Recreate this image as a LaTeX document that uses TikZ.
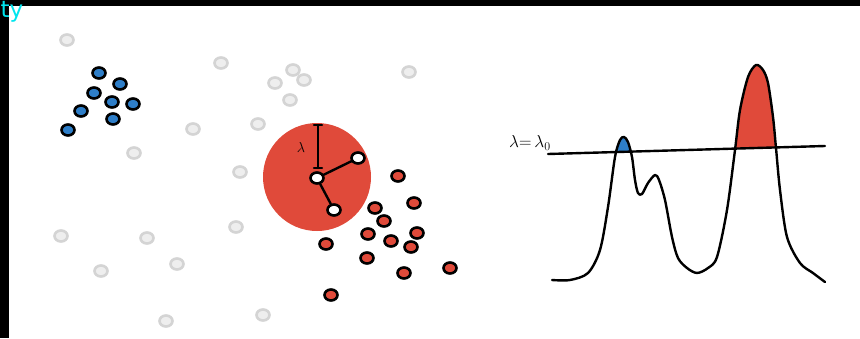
\documentclass[tikz,border=0pt]{standalone}
\usepackage{fontspec}
\setsansfont{DejaVu Sans}
\usetikzlibrary{shapes.geometric}
\definecolor{dotred}{HTML}{E04A3A}
\definecolor{dotblue}{HTML}{2E7EC8}
\definecolor{ringgrey}{HTML}{D4D4D4}
\definecolor{fillgrey}{HTML}{EEEEEE}
\definecolor{tycyan}{HTML}{00E5EE}
\tikzset{
  dotbase/.style={ellipse, minimum width=13pt, minimum height=11pt, inner sep=0pt, line width=2.6pt},
  greydot/.style={dotbase, draw=ringgrey, fill=fillgrey},
  bluedot/.style={dotbase, draw=black, fill=dotblue},
  reddot/.style={dotbase, draw=black, fill=dotred},
  opendot/.style={dotbase, draw=black, fill=white},
  ink/.style={line width=2.4pt, line cap=round, line join=round},
}
\begin{document}
\begin{tikzpicture}[x=1pt,y=-1pt]
\useasboundingbox (0,0) rectangle (860,338);
\fill[white] (0,0) rectangle (860,338);

% grey dots
\foreach \x/\y [count=\i] in {67/40,221/63,293/70,275/83,304/80,409/72,290/100,193/129,258/124,134/153,240/172,61/236,147/238,236/227,101/271,177/264,166/321,263/315}
  \node[greydot] (g\i) at (\x,\y) {};

% blue dots
\foreach \x/\y [count=\i] in {99/73,120/84,94/93,112/102,133/104,81/111,113/119,68/130}
  \node[bluedot] (b\i) at (\x,\y) {};

% red disk
\fill[dotred] (317,177) circle (54);

% red dots
\foreach \x/\y [count=\i] in {398/176,414/203,375/208,384/221,368/234,417/233,391/241,326/244,411/247,367/258,404/273,450/268,331/295}
  \node[reddot] (r\i) at (\x,\y) {};

% radius construction
\node[opendot] (c0) at (317,178) {};
\node[opendot] (c1) at (358,158) {};
\node[opendot] (c2) at (334,210) {};
\coordinate (top) at (318,125);
\coordinate (bot) at (318,168);
\draw[ink] (c0) -- (c1);
\draw[ink] (c0) -- (c2);
\draw[ink] (top) -- (bot);
\draw[ink] ([xshift=-4pt]top) -- ([xshift=4pt]top);
\draw[ink] ([xshift=-4pt]bot) -- ([xshift=4pt]bot);
\node[font=\fontsize{15}{15}\selectfont] (lam) at (301,147) {$\lambda$};

% density curve
\def\curvepts{(552,280) (570,280) (588,273) (600,250) (608,207) (615,157) (620,140) (624,137) (628,142) (632,157) (635,180) (638,193) (642,194) (648,183) (655,175) (659,180) (665,200) (672,237) (678,258) (687,268) (697,273) (708,268) (717,257) (727,210) (735,150) (740,110) (748,77) (756,65) (763,70) (768,83) (773,117) (776,148) (780,190) (787,237) (800,263) (813,273) (825,282)}
\begin{scope}
  \clip (548,154) -- (825,146) -- (825,0) -- (548,0) -- cycle;
  \clip (540,0) rectangle (700,338);
  \fill[dotblue] plot[smooth, tension=0.5] coordinates {\curvepts} -- (825,330) -- (552,330) -- cycle;
\end{scope}
\begin{scope}
  \clip (548,154) -- (825,146) -- (825,0) -- (548,0) -- cycle;
  \clip (700,0) rectangle (830,338);
  \fill[dotred] plot[smooth, tension=0.5] coordinates {\curvepts} -- (825,330) -- (552,330) -- cycle;
\end{scope}
\coordinate (l0) at (548,154);
\coordinate (l1) at (825,146);
\draw[ink] (l0) -- (l1);
\draw[ink] plot[smooth, tension=0.5] coordinates {\curvepts};
\node[anchor=west, inner sep=0pt, font=\fontsize{17}{17}\selectfont] (lab) at (509,143) {$\lambda{=}\,\lambda_0$};

% frame bars
\fill[black] (0,0) rectangle (860,6);
\fill[black] (0,0) rectangle (8.5,338);
\node[anchor=base west, inner sep=0pt, text=tycyan, font=\sffamily\fontsize{23}{23}\selectfont] (ty) at (0.5,17.5) {ty};
\end{tikzpicture}
\end{document}
